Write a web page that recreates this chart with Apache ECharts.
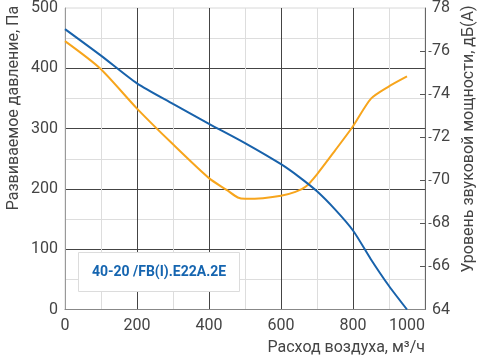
<!DOCTYPE html>
<html>
<head>
<meta charset="utf-8">
<script src="https://cdn.jsdelivr.net/npm/echarts@6/dist/echarts.min.js"></script>
<style>html,body{margin:0;padding:0;background:#fff}#c{width:486px;height:361px}</style>
</head>
<body>
<div id="c"></div>
<script>
var pressureFlow = [0, 100, 200, 300, 400, 500, 600, 650, 700, 750, 800, 850, 900, 950];
var pressure     = [465, 421, 375, 341, 308, 276, 241, 220, 196, 166, 131, 83, 39, 0];
var noiseFlow = [0, 97, 200, 300, 400, 450, 480, 500, 550, 600, 640, 670, 700, 750, 800, 850, 900, 950];
var noise     = [76.46, 75.2, 73.33, 71.67, 70.1, 69.54, 69.2, 69.14, 69.17, 69.28, 69.46, 69.72, 70.28, 71.38, 72.51, 73.79, 74.36, 74.82];
var xTicks = [0, 200, 400, 600, 800, 1000];
var leftTicks = [0, 100, 200, 300, 400, 500];
var rightTicks = [64, 66, 68, 70, 72, 74, 76, 78];
var modelName = '40-20 /FB(I).E22A.2E';
var xName = 'Расход воздуха, м³/ч';
var leftName = 'Развиваемое давление, Па';
var rightName = 'Уровень звуковой мощности, дБ(А)';

function pairs(xs, ys) { return xs.map(function (x, i) { return [x, ys[i]]; }); }
function plain(v) { return String(v); }

var FONT = 'Roboto';
var TXT = '#444';
var FS = 16;
var chart = echarts.init(document.getElementById('c'), null, { renderer: 'canvas' });
var innerTicks = rightTicks.slice(1, -1);
chart.setOption({
  animation: false,
  textStyle: { fontFamily: FONT },
  grid: { left: 65, right: 61, top: 6, bottom: 51.5, show: true, borderColor: '#d8d8d8', borderWidth: 1 },
  xAxis: {
    type: 'value', min: xTicks[0], max: xTicks[xTicks.length - 1], interval: 200,
    axisLine: { show: true, lineStyle: { color: '#888', width: 1 } },
    axisTick: { show: false },
    axisLabel: { color: TXT, fontSize: FS, margin: 8, alignMaxLabel: 'right', fontFamily: FONT, formatter: plain },
    splitLine: { show: true, showMinLine: false, showMaxLine: false, lineStyle: { color: '#444', width: 1 } },
    minorTick: { show: false, splitNumber: 2 },
    minorSplitLine: { show: true, lineStyle: { color: '#dddddd', width: 1 } }
  },
  yAxis: [
    {
      type: 'value', min: leftTicks[0], max: leftTicks[leftTicks.length - 1], interval: 100, position: 'left',
      axisLine: { show: true, lineStyle: { color: '#999', width: 1 } },
      axisTick: { show: false },
      axisLabel: { color: TXT, fontSize: FS, margin: 7, fontFamily: FONT, formatter: plain },
      splitLine: { show: true, showMinLine: false, showMaxLine: false, lineStyle: { color: '#444', width: 1 } },
      minorTick: { show: false, splitNumber: 2 },
      minorSplitLine: { show: true, lineStyle: { color: '#dddddd', width: 1 } }
    },
    {
      type: 'value', min: rightTicks[0], max: rightTicks[rightTicks.length - 1], interval: 2, position: 'right',
      axisLine: { show: true, onZero: false, lineStyle: { color: '#666', width: 1 } },
      axisTick: { show: true, inside: true, length: 5, customValues: innerTicks, lineStyle: { color: '#555' } },
      axisLabel: { color: TXT, fontSize: FS, margin: 7, fontFamily: FONT, formatter: plain },
      splitLine: { show: false }
    },
    {
      type: 'value', min: rightTicks[0], max: rightTicks[rightTicks.length - 1], interval: 2, position: 'right', offset: 3.5,
      axisLine: { show: false },
      axisTick: { show: true, inside: false, length: 3, customValues: innerTicks, lineStyle: { color: '#555' } },
      axisLabel: { show: false },
      splitLine: { show: false }
    }
  ],
  graphic: [
    { type: 'rect', shape: { x: 78.5, y: 252.5, width: 161, height: 39 }, style: { fill: '#fff', stroke: '#dcdcdc', lineWidth: 1 }, z: 100 },
    { type: 'text', x: 159, y: 272, z: 101, style: { text: modelName, fill: '#1565b0', font: 'bold 14px ' + FONT, textAlign: 'center', textVerticalAlign: 'middle' } },
    { type: 'text', x: 425, y: 348, style: { text: xName, fill: TXT, font: FS + 'px ' + FONT, textAlign: 'right', textVerticalAlign: 'middle' } },
    { type: 'text', x: 14, y: 108, rotation: Math.PI / 2, style: { text: leftName, fill: TXT, font: FS + 'px ' + FONT, textAlign: 'center', textVerticalAlign: 'middle' } },
    { type: 'text', x: 469, y: 139, rotation: Math.PI / 2, style: { text: rightName, fill: TXT, font: FS + 'px ' + FONT, textAlign: 'center', textVerticalAlign: 'middle' } }
  ],
  series: [
    {
      type: 'line', yAxisIndex: 0, data: pairs(pressureFlow, pressure), showSymbol: false, smooth: 0.25,
      lineStyle: { color: '#1862ab', width: 2 }, z: 3
    },
    {
      type: 'line', yAxisIndex: 1, data: pairs(noiseFlow, noise), showSymbol: false, smooth: 0.25,
      lineStyle: { color: '#f7a51c', width: 2 }, z: 2
    }
  ]
});
</script>
</body>
</html>
